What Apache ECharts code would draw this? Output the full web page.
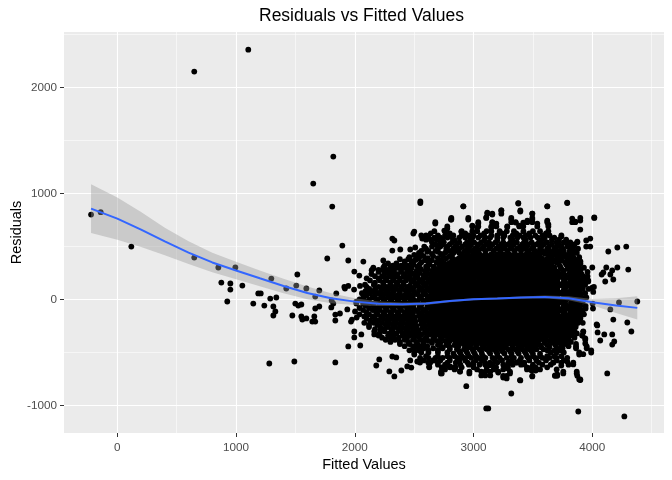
<!DOCTYPE html>
<html>
<head>
<meta charset="utf-8">
<script src="https://cdn.jsdelivr.net/npm/echarts/dist/echarts.min.js"></script>
<style>html,body{margin:0;padding:0;background:#fff}#c{width:672px;height:480px}</style>
</head>
<body>
<div id="c"></div>
<script>
// ---------- tick labels ----------
const xTicks = [0, 1000, 2000, 3000, 4000];
const yTicks = [-1000, 0, 1000, 2000];

// ---------- saturated core of the cloud: rows [residual, [fitted values...]] ----------
const cloudRows = [
  [420, [2900,2950,3000,3050,3100,3150,3200,3250,3300,3350,3400,3450,3500,3550]],
  [380, [2825,2875,2925,2975,3025,3075,3125,3175,3225,3275,3325,3375,3425,3475,3525,3575,3625]],
  [340, [2750,2800,2850,2900,2950,3000,3050,3100,3150,3200,3250,3300,3350,3400,3450,3500,3550,3600,3650]],
  [300, [2725,2775,2825,2875,2925,2975,3025,3075,3125,3175,3225,3275,3325,3375,3425,3475,3525,3575,3625,3675]],
  [260, [2700,2750,2800,2850,2900,2950,3000,3050,3100,3150,3200,3250,3300,3350,3400,3450,3500,3550,3600,3650,3700]],
  [220, [2675,2725,2775,2825,2875,2925,2975,3025,3075,3125,3175,3225,3275,3325,3375,3425,3475,3525,3575,3625,3675,3725]],
  [180, [2700,2750,2800,2850,2900,2950,3000,3050,3100,3150,3200,3250,3300,3350,3400,3450,3500,3550,3600,3650,3700]],
  [140, [2675,2725,2775,2825,2875,2925,2975,3025,3075,3125,3175,3225,3275,3325,3375,3425,3475,3525,3575,3625,3675,3725]],
  [100, [2700,2750,2800,2850,2900,2950,3000,3050,3100,3150,3200,3250,3300,3350,3400,3450,3500,3550,3600,3650,3700]],
  [60,  [2675,2725,2775,2825,2875,2925,2975,3025,3075,3125,3175,3225,3275,3325,3375,3425,3475,3525,3575,3625,3675,3725]],
  [20,  [2700,2750,2800,2850,2900,2950,3000,3050,3100,3150,3200,3250,3300,3350,3400,3450,3500,3550,3600,3650,3700]],
  [-20, [2675,2725,2775,2825,2875,2925,2975,3025,3075,3125,3175,3225,3275,3325,3375,3425,3475,3525,3575,3625,3675,3725]],
  [-60, [2700,2750,2800,2850,2900,2950,3000,3050,3100,3150,3200,3250,3300,3350,3400,3450,3500,3550,3600,3650,3700]],
  [-100,[2675,2725,2775,2825,2875,2925,2975,3025,3075,3125,3175,3225,3275,3325,3375,3425,3475,3525,3575,3625,3675,3725]],
  [-140,[2700,2750,2800,2850,2900,2950,3000,3050,3100,3150,3200,3250,3300,3350,3400,3450,3500,3550,3600,3650,3700]],
  [-180,[2675,2725,2775,2825,2875,2925,2975,3025,3075,3125,3175,3225,3275,3325,3375,3425,3475,3525,3575,3625,3675,3725]],
  [-220,[2700,2750,2800,2850,2900,2950,3000,3050,3100,3150,3200,3250,3300,3350,3400,3450,3500,3550,3600,3650,3700]],
  [-260,[2675,2725,2775,2825,2875,2925,2975,3025,3075,3125,3175,3225,3275,3325,3375,3425,3475,3525,3575,3625,3675,3725]],
  [-300,[2700,2750,2800,2850,2900,2950,3000,3050,3100,3150,3200,3250,3300,3350,3400,3450,3500,3550,3600,3650,3700]],
  [-340,[2725,2775,2825,2875,2925,2975,3025,3075,3125,3175,3225,3275,3325,3375,3425,3475,3525,3575,3625,3675]],
  [-380,[2800,2850,2900,2950,3000,3050,3100,3150,3200,3250,3300,3350,3400,3450,3500,3550,3600]],
  [-420,[2875,2925,2975,3025,3075,3125,3175,3225,3275,3325,3375,3425,3475,3525]]
];

// ---------- mottled ring just around the core: rows [residual, [fitted values...]] ----------
const ringLeft = [
  [450, [2610,2700,2770]], [430, [2650,2725,2820]], [410, [2580,2660,2740,2800]], [390, [2540,2615,2700,2770]],
  [370, [2505,2590,2650,2730]], [350, [2560,2620,2690]], [330, [2495,2545,2630,2710]], [310, [2530,2600,2665]],
  [290, [2470,2555,2615,2680]], [270, [2520,2590,2650]], [250, [2480,2545,2610,2665]], [230, [2505,2580,2640]],
  [210, [2460,2530,2600,2660]], [190, [2500,2570,2630]], [170, [2475,2545,2615,2660]], [150, [2510,2580,2640]],
  [130, [2465,2535,2600,2655]], [110, [2495,2565,2630]], [90, [2470,2540,2605,2660]], [70, [2500,2575,2640]],
  [50, [2460,2530,2595,2655]], [30, [2490,2560,2625]], [10, [2470,2545,2610,2660]], [-10, [2505,2575,2640]],
  [-30, [2465,2530,2600,2655]], [-50, [2495,2560,2630]], [-70, [2475,2545,2610,2660]], [-90, [2500,2570,2640]],
  [-110, [2460,2530,2600,2655]], [-130, [2490,2565,2630]], [-150, [2475,2540,2605,2660]], [-170, [2505,2580,2645]],
  [-190, [2480,2550,2615,2665]], [-210, [2510,2585,2650]], [-230, [2490,2560,2625,2670]], [-250, [2520,2595,2655]],
  [-270, [2500,2570,2635,2680]], [-290, [2540,2610,2670]], [-310, [2520,2590,2650,2700]], [-330, [2560,2630,2690]],
  [-350, [2540,2605,2670,2720]], [-370, [2590,2660,2730]], [-390, [2620,2690,2760,2800]], [-410, [2650,2720,2790,2850]],
  [-430, [2700,2770,2840]], [-450, [2730,2800,2870,2940]]
];
const ringRight = [
  [450, [3580,3640,3700]], [430, [3600,3670,3730]], [410, [3640,3700,3760]], [390, [3660,3720,3790]],
  [370, [3690,3740,3810]], [350, [3700,3770,3830]], [330, [3720,3780,3850]], [310, [3730,3800]],
  [290, [3740,3790,3860]], [270, [3760,3820]], [250, [3750,3810,3870]], [230, [3770,3830]],
  [210, [3750,3800,3860]], [190, [3770,3840]], [170, [3760,3815,3875]], [150, [3780,3840]],
  [130, [3755,3810,3870]], [110, [3775,3835]], [90, [3760,3820,3880]], [70, [3785,3845]],
  [50, [3760,3815,3870]], [30, [3780,3840]], [10, [3755,3810,3875]], [-10, [3775,3840]],
  [-30, [3760,3820,3870]], [-50, [3780,3835]], [-70, [3755,3810,3865]], [-90, [3775,3830]],
  [-110, [3760,3815,3860]], [-130, [3770,3825]], [-150, [3750,3800,3855]], [-170, [3765,3820]],
  [-190, [3745,3795,3850]], [-210, [3760,3815]], [-230, [3740,3790,3840]], [-250, [3755,3810]],
  [-270, [3730,3780,3830]], [-290, [3745,3800]], [-310, [3720,3770,3820]], [-330, [3700,3750,3810]],
  [-350, [3690,3740,3790]], [-370, [3660,3720,3770]], [-390, [3640,3690,3750]], [-410, [3600,3660,3720]],
  [-430, [3560,3620,3690]], [-450, [3500,3570,3640]]
];
const ringTopBottom = [
  [560, [2720,2840,2970,3090,3200,3330,3440,3570]],
  [540, [2750,2820,2880,2945,3005,3065,3130,3185,3250,3310,3365,3425,3490,3550,3610]],
  [520, [2740,2800,2860,2930,2980,3040,3110,3160,3230,3290,3340,3410,3460,3530,3590,3660]],
  [500, [2720,2780,2845,2905,2965,3030,3085,3145,3210,3265,3325,3390,3445,3505,3570,3635]],
  [480, [2700,2770,2830,2880,2950,3010,3070,3130,3190,3250,3310,3370,3430,3490,3560,3620,3680]],
  [460, [2800,2860,2925,2985,3040,3100,3170,3225,3285,3345,3400,3465,3520,3580,3640]],
  [440, [2760,2830,2880,2950,3010,3450,3510,3560,3620,3660]],
  [-450,[2960,3020,3085,3140,3205,3260,3330,3385,3450]],
  [-470,[2800,2860,2920,2990,3050,3110,3170,3230,3290,3350,3410,3470,3530,3590]],
  [-490,[2880,2940,3000,3065,3130,3190,3245,3310,3370,3430,3490]],
  [-510,[2830,2890,2950,3010,3070,3140,3200,3260,3320,3380,3440,3500,3560]]
];

// ---------- ragged outer edge of the cloud: rows [residual, [fitted values...]] ----------
const haloRows = [
  [910, [2552,3377,3789]],
  [880, [2914,3621]],
  [840, [3234,3394]],
  [810, [3116,3158,3234,3495]],
  [770, [2813,2956,3107,3318,3495,3899,4017]],
  [730, [2678,3040,3158,3318,3355,3453,3495,3621,3831,3857]],
  [690, [2779,2990,3040,3150,3192,3284,3385,3419,3537,3630]],
  [645, [2670,2760,2900,2990,3031,3110,3150,3220,3280,3340,3420,3500,3560,3630]],
  [625, [2640,2800,2930,3090,3240,3360,3470,3610]],
  [605, [2560,2600,2700,2760,2830,2900,2960,3000,3060,3150,3200,3260,3330,3390,3440,3520,3580,3640,3740]],
  [585, [2620,2670,2720,2780,2820,2880,2930,2990,3040,3100,3140,3200,3250,3310,3370,3420,3480,3540,3600,3680]],
  [565, [2600,2640,2690,2740,3660,3720,3780]],
  [540, [2650,2720,3620,3700,3760,3815,3874]],
  [520, [2680,3720,3790,3850]],
  [500, [2650,2700,3700,3740,3790,3840,3949,3983]],
  [480, [2600,3750,3820,3880]],
  [460, [2560,2620,2680,3720,3760,3810,3850]],
  [440, [2540,3760,3820,3870]],
  [420, [2500,2560,3740,3790,3830]],
  [400, [2460,2540,3780,3840,3890]],
  [380, [2380,2450,2520,3810,3850,3890]],
  [360, [2420,2480,3800,3860,3900]],
  [340, [2280,2350,2420,2480,3820,3860,3900]],
  [320, [2250,2320,2390,2450,3870]],
  [300, [2156,2240,2300,2360,2420,2480,3840,3890,3930]],
  [280, [2200,2270,2330,2390,2450,3850,3900]],
  [260, [2200,2282,2330,2390,2440,3850,3900,3960]],
  [240, [2140,2250,2310,2360,2420,3860,3910]],
  [220, [2170,2230,2290,2350,2410,2460,3874,3920,3960]],
  [200, [2100,2200,2260,2320,2380,2440,3880,3930]],
  [180, [2128,2212,2270,2330,2380,2430,3900,3924,3966]],
  [160, [2170,2240,2300,2350,2410,3870,3910]],
  [140, [2086,2160,2240,2300,2360,2410,3890,3940]],
  [120, [2100,2200,2270,2330,2390,2440,3880,3920]],
  [100, [2122,2172,2240,2300,2350,2400,2450,3880,3920,3970]],
  [80,  [2090,2160,2220,2280,2330,2380,2430,3860,3890]],
  [60,  [2060,2130,2200,2260,2320,2380,2440,3860,3900,3940]],
  [40,  [2100,2170,2240,2300,2360,2420,3890]],
  [20,  [2072,2150,2220,2280,2340,2390,2450,3870,3910,3950]],
  [0,   [2040,2120,2190,2250,2310,2370,2420,3860,3900]],
  [-20, [2013,2114,2180,2240,2300,2360,2420,2470,3860,3920]],
  [-40, [2070,2150,2210,2270,2330,2390,2440,3890]],
  [-60, [2090,2160,2230,2290,2350,2410,2460,3860,3900,3944]],
  [-80, [2040,2120,2190,2260,2320,2380,2440,3850,3880]],
  [-100,[2070,2150,2210,2270,2330,2390,2450,3850,3890,3920]],
  [-120,[2100,2180,2240,2300,2360,2420,3870,3910]],
  [-140,[2040,2120,2190,2250,2310,2370,2430,3820,3880,3930]],
  [-160,[2080,2150,2220,2280,2340,2400,2460,3850,3900]],
  [-180,[2100,2170,2240,2300,2360,2420,3800,3860,3900]],
  [-200,[2130,2200,2270,2330,2390,2450,3880]],
  [-220,[2080,2160,2230,2290,2350,2410,2460,3840,3880,3920]],
  [-240,[2120,2190,2260,2320,2380,2440,3810,3860]],
  [-260,[2120,2215,2280,2340,2400,2460,3770,3820,3860]],
  [-280,[2170,2250,2310,2370,2430,2490,3840]],
  [-300,[2164,2250,2320,2390,2450,2510,3750,3800,3850,3924]],
  [-320,[2210,2290,2350,2420,2480,3810,3870]],
  [-340,[2200,2280,2324,2400,2460,2520,3780,3830,3916]],
  [-360,[2230,2300,2370,2440,2500,3790,3850]],
  [-380,[2260,2340,2420,2490,2550,3700,3760,3800,3941]],
  [-400,[2300,2380,2450,2520,2580,3760,3820]],
  [-420,[2380,2460,2526,2577,3740,3780,3863]],
  [-440,[2420,2490,2560,2610,3740,3800]],
  [-460,[2501,2577,2660,2740,3700,3750,3863,3953]],
  [-480,[2460,2540,2620,2700,3620,3680,3730]],
  [-500,[2501,2560,2620,2700,2780,3650,3700,3760,3890,3991]],
  [-535,[2600,2700,2780,2840,2900,2960,3020,3080,3200,3320,3450,3500,3560,3620,3680,3740]],
  [-550,[2550,2620,2680,2740,2800,2860,2920,2980,3040,3100,3160,3220,3280,3340,3400,3460,3520,3580,3640,3700,3789]],
  [-575,[2580,2660,2720,2800,2880,2930,3020,3070,3180,3240,3320,3390,3470,3530,3610,3700,3760]],
  [-595,[2549,2633,2700,2780,2850,2950,2998,3097,3139,3200,3293,3363,3427,3550,3672,3739,3840]],
  [-615,[2700,2760,2890,2960,3050,3160,3250,3330,3400,3500,3580,3650,3800]],
  [-640,[2627,2734,2802,2847,2900,3000,3111,3190,3288,3450,3489,3523,3620]],
  [-660,[2760,2840,3030,3170,3250,3450,3560,3700]],
  [-680,[2726,2886,2965,3065,3099,3141,3208,3307,3756,3869]],
  [-720,[3250,3279,3495,3686,3705,3874]],
  [-760,[3391,3899]]
];

// ---------- individual points away from the cloud: [fitted, residual] ----------
const sparseLeft = [
  [-221,802],[-140,824],[118,500],[648,2151],[1103,2358],[648,396],[851,302],[994,302],[876,160],[952,151],
  [952,94],[926,-19],[1053,132],[1145,-38],[1187,57],[1208,57],[1238,-57],[1297,198],[1288,9],[1314,-66],
  [1331,-113],[1314,-151],[1339,19],[1280,-604],[1423,104],[1474,-151],[1491,-585],[1516,236],[1507,132],[1499,-38],
  [1524,-57],[1550,-47],[1592,104],[1550,-160],[1558,-189],[1592,-179],[1642,-208],[1667,-208],[1659,-160],[1667,-85],
  [1701,-66],[1701,85],[1667,28],[1768,387],[1844,57],[1802,-75],[1819,-38],[1836,-142],[1836,-198],[1836,-594],
  [1875,-132],[1650,1094],[1819,1349],[1810,877],[1895,509],[1945,368],[2072,358],[2240,368],[1996,264],[2038,226],
  [1805,-9],[1937,-94],[2002,-113],[1976,-189],[1968,-208],[2016,-170],[1996,-302],[1996,-358],[2055,-330],[1945,-443],
  [2046,-434],[2164,-330],[2215,-292],[2324,-377],[2206,-566],[2181,-623],[2316,-538],[2349,-547],[2291,-679],[2333,-726],
  [2392,-670],[2442,-632],[2476,-642],[2467,-575],[2526,-585],[2501,-519],[2619,-594],[2526,-443],[2577,-462],[2122,85],
  [2172,94],[2240,104],[2072,-7],[2114,-28],[2013,-38],[1917,104],[1994,94],[2044,128],[1912,119],[1945,128],
  [2142,276],[2156,292],[2240,276],[2282,260],[2311,251],[2316,575],[2333,557],[2316,462],[2383,472],[2467,472],
  [2509,491],[2493,623],[2501,641],[2568,575],[2602,575],[2585,500],[2552,925],[2678,717],[2754,651],[2779,670],[2810,755]
];
const sparseRight = [
  [2914,880],[3377,906],[3789,915],[3621,880],[3234,840],[3394,830],[3116,821],[3158,802],[2813,755],[2956,755],
  [2897,641],[2990,698],[3040,717],[3031,679],[3107,774],[3158,726],[3192,717],[3150,679],[3284,685],[3318,755],
  [3355,726],[3385,698],[3419,726],[3453,745],[3495,755],[3495,811],[3537,717],[3621,745],[3630,708],[3831,764],
  [3857,736],[3899,745],[3899,660],[3874,547],[3949,557],[3983,575],[3815,519],[3739,594],[4017,774],[4135,453],
  [4211,491],[4286,500],[4000,302],[4303,283],[4118,302],[4211,302],[4079,236],[4093,255],[4152,236],[4168,274],
  [4177,189],[4109,170],[4000,113],[4008,72],[4014,119],[3924,179],[3966,170],[3874,236],[4379,-19],[4037,-236],
  [4042,-245],[4045,-311],[4177,-189],[4295,-217],[4329,-302],[4006,-85],[4003,-38],[3944,-85],[4152,-94],[4225,-28],
  [4067,-387],[4101,-330],[4168,-330],[4168,-425],[4185,-396],[4126,-698],[3991,-481],[3924,-516],[3890,-755],[3869,-698],
  [3899,-755],[3756,-698],[3686,-717],[3705,-708],[2939,-818],[3318,-887],[3107,-1028],[3124,-1028],[3882,-1057],[4270,-1104],
  [3394,-764],[2726,-698],[2734,-642],[2886,-679],[2965,-698],[3065,-717],[3099,-717],[3141,-717],[3208,-689],[3250,-736],
  [3279,-745],[3307,-698],[3489,-670],[3523,-670],[3495,-726],[3293,-604],[3288,-651],[3363,-594],[3427,-613],[3097,-613],
  [3139,-620],[3111,-670],[2802,-632],[2847,-642],[2998,-613],[2667,-575],[2627,-632],[3672,-594],[3739,-623],[3789,-585],
  [3840,-613],[3890,-519],[3863,-443],[3941,-415],[3953,-443],[3924,-306],[3941,-368],[3916,-340],[2633,-598],[2732,-698],
  [2802,-636],[2844,-636]
];

// ---------- loess smoother and its confidence band ----------
const smoothX  = [-221, 0, 200, 400, 600, 800, 1000, 1200, 1400, 1600, 1800, 2000, 2200, 2400, 2600, 2800, 3000, 3200, 3400, 3600, 3800, 4000, 4200, 4379];
const smoothY  = [858, 764, 660, 548, 442, 350, 274, 200, 128, 62, 12, -20, -40, -45, -38, -15, 3, 10, 18, 24, 12, -25, -57, -79];
const bandLow  = [627, 564, 495, 418, 334, 258, 191, 125, 60, 2, -36, -52, -62, -61, -51, -26, -7, 0, 7, 11, -6, -55, -127, -189];
const bandHigh = [1089, 964, 825, 678, 550, 442, 357, 275, 196, 122, 60, 12, -18, -29, -25, -4, 13, 20, 29, 37, 30, 5, 13, 31];

// ---------- build ----------
function rowsToPoints(rows) {
  const out = [];
  rows.forEach(function (r) { r[1].forEach(function (x) { out.push([x, r[0]]); }); });
  return out;
}
const cloudPoints = rowsToPoints(cloudRows);
const otherPoints = rowsToPoints(ringLeft).concat(
  rowsToPoints(ringRight), rowsToPoints(ringTopBottom), rowsToPoints(haloRows), sparseLeft, sparseRight);

const FONT = '"Liberation Sans", Arial, Helvetica, sans-serif';
const chart = echarts.init(document.getElementById('c'), null, { renderer: 'canvas' });

function axisCommon(ticks) {
  return {
    type: 'value',
    axisLine: { show: false, onZero: false },
    axisTick: { show: true, length: 4, lineStyle: { color: '#333333', width: 1 }, customValues: ticks },
    axisLabel: { customValues: ticks, formatter: function (v) { return String(v); }, color: '#4D4D4D', fontFamily: FONT, fontSize: 11.7 },
    splitLine: { show: true, lineStyle: { color: '#FFFFFF', width: 1.1 } },
    minorTick: { show: false, splitNumber: 2 },
    minorSplitLine: { show: true, lineStyle: { color: '#FFFFFF', width: 0.55 } },
    nameLocation: 'middle',
    nameMoveOverlap: false,
    nameTextStyle: { fontFamily: FONT, fontSize: 14.5, color: '#000000' }
  };
}

const xAxis = Object.assign(axisCommon(xTicks), { min: -449, max: 4604, name: 'Fitted Values', nameGap: 24 });
xAxis.axisLabel.margin = 9;
const yAxis = Object.assign(axisCommon(yTicks), { min: -1260, max: 2525, name: 'Residuals', nameGap: 40 });
yAxis.axisLabel.margin = 7;

chart.setOption({
  animation: false,
  backgroundColor: '#FFFFFF',
  title: {
    text: 'Residuals vs Fitted Values',
    left: 259, top: 7, padding: 0,
    textStyle: { fontFamily: FONT, fontSize: 17.5, fontWeight: 'normal', color: '#000000' }
  },
  grid: { left: 64, right: 8, top: 32, bottom: 47, show: true, backgroundColor: '#EBEBEB', borderWidth: 0, containLabel: false, outerBoundsMode: 'none' },
  xAxis: xAxis,
  yAxis: yAxis,
  series: [
    {
      type: 'scatter', z: 2, silent: true, data: cloudPoints,
      symbolSize: 7, itemStyle: { color: '#000000', opacity: 1 }
    },
    {
      type: 'scatter', z: 2, silent: true, data: otherPoints,
      symbolSize: 5.8, itemStyle: { color: '#000000', opacity: 1 }
    },
    {
      type: 'custom', z: 3, silent: true, clip: true,
      data: [[smoothX[0], smoothY[0]]],
      renderItem: function (params, api) {
        const pts = [];
        for (let i = 0; i < smoothX.length; i++) pts.push(api.coord([smoothX[i], bandHigh[i]]));
        for (let i = smoothX.length - 1; i >= 0; i--) pts.push(api.coord([smoothX[i], bandLow[i]]));
        return { type: 'polygon', shape: { points: pts }, style: { fill: 'rgba(153,153,153,0.4)' } };
      }
    },
    {
      type: 'line', z: 4, silent: true, symbol: 'none', smooth: false,
      data: smoothX.map(function (x, i) { return [x, smoothY[i]]; }),
      lineStyle: { color: '#3366FF', width: 2 }
    }
  ]
});
</script>
</body>
</html>
